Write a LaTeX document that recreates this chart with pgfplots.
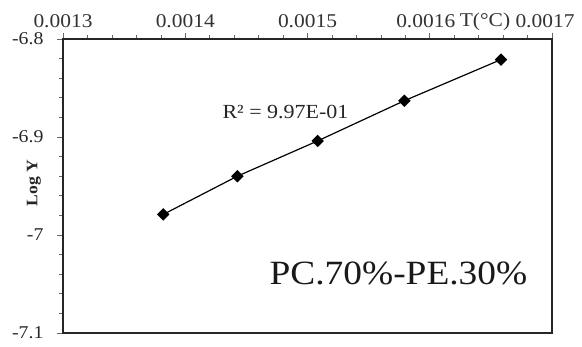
\documentclass[border=0pt]{standalone}
\usepackage{fontspec}
\setmainfont[FakeStretch=1.1]{Liberation Serif}
\usepackage{pgfplots}
\pgfplotsset{compat=1.18}
\begin{document}
\begin{tikzpicture}
\begin{axis}[
  scale only axis, width=489bp, height=294bp,
  xmin=0.0013, xmax=0.0017, ymin=-7.1, ymax=-6.8,
  xtick={0.0013,0.0014,0.0015,0.0016,0.0017},
  xticklabels={0.0013,0.0014,0.0015,0.0016\hspace*{8bp},0.0017\hspace*{14bp}},
  ytick={-7.1,-7,-6.9,-6.8},
  yticklabels={-7.1,-7,-6.9,-6.8},
  scaled x ticks=false, scaled y ticks=false,
  minor x tick num=4, minor y tick num=4,
  tick align=outside,
  xtick pos=right, xticklabel pos=right, ytick pos=left,
  major tick length=6bp, minor tick length=4bp,
  tick style={black!60, line width=0.6bp},
  axis line style={black!85, line width=1.6bp},
  xticklabel style={font=\fontsize{19.5bp}{21bp}\selectfont, text=black!80, yshift=1.5bp},
  yticklabel style={font=\fontsize{18bp}{20bp}\selectfont, text=black!85, xshift=-10bp},
  clip=false,
]
\addplot[black, line width=1.2bp, mark=square*, mark size=3.8bp,
  mark options={rotate=45, solid}] coordinates {
  (0.001382,-6.979)
  (0.0014426,-6.940)
  (0.0015083,-6.904)
  (0.0015792,-6.863)
  (0.0016583,-6.821)
};
\node[anchor=center, font=\fontsize{20bp}{22bp}\selectfont, text=black!85]
  at (rel axis cs:0.455,0.752) {R² = 9.97E-01};
\node[anchor=center, font=\fontsize{34bp}{38bp}\selectfont, text=black!90]
  at (rel axis cs:0.686,0.204) {PC.70\%-PE.30\%};
\node[anchor=base, font=\fontsize{19.5bp}{21bp}\selectfont, text=black!80]
  at ([yshift=12.5bp]rel axis cs:0.863,1) {T(°C)};
\node[rotate=90, anchor=center, font=\fontsize{16bp}{18bp}\selectfont\bfseries, text=black!85]
  at ([xshift=-29bp]rel axis cs:0,0.51) {Log Y};
\end{axis}
\pgfresetboundingbox
\path[use as bounding box] ([xshift=-63bp,yshift=-14bp]current axis.south west) rectangle ([xshift=30bp,yshift=39bp]current axis.north east);
\end{tikzpicture}
\end{document}
